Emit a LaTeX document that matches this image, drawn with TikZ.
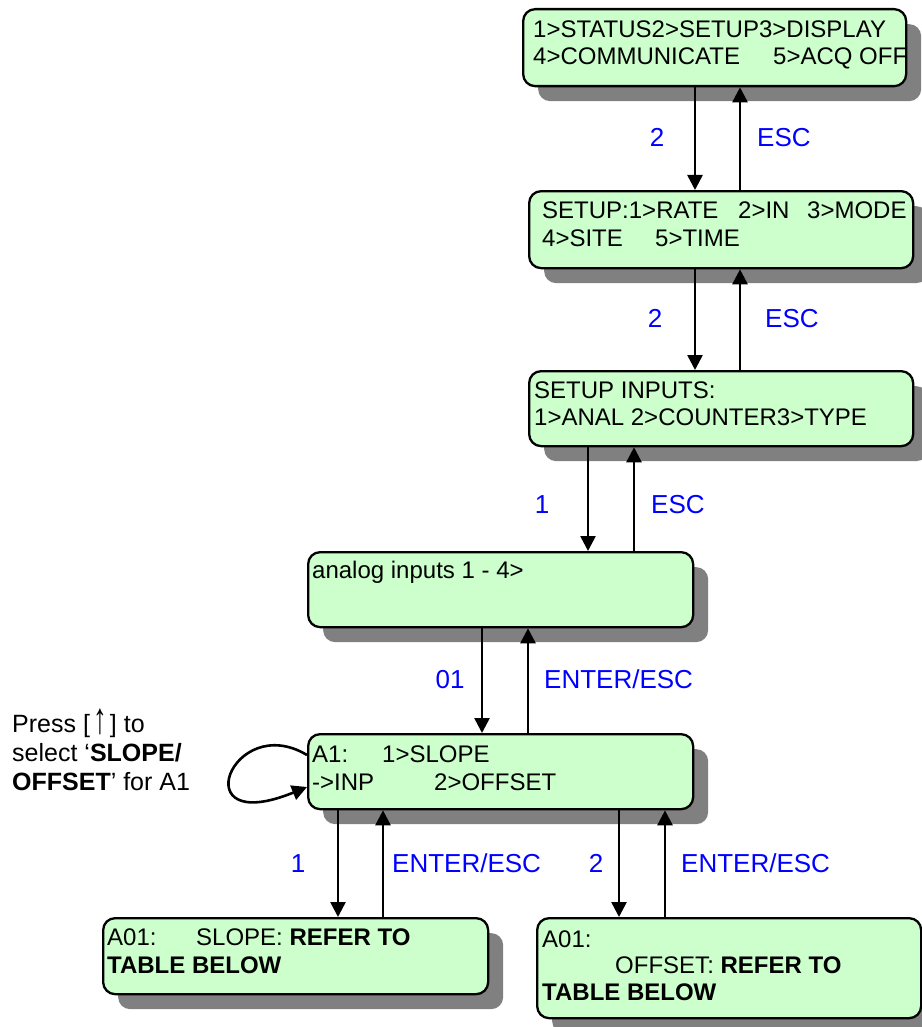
\documentclass[tikz,border=0pt]{standalone}
\usepackage{fontspec}
\setmainfont{Liberation Sans}
\usetikzlibrary{arrows.meta,shadows}
\definecolor{boxgreen}{RGB}{204,255,204}
\definecolor{shadowgray}{RGB}{128,128,128}
\definecolor{keyblue}{RGB}{0,0,255}
\begin{document}
\begin{tikzpicture}[x=1pt,y=-1pt,
  screen/.style={draw=black, line width=2.3pt, fill=boxgreen, rounded corners=12pt, inner sep=0pt, anchor=north west,
    drop shadow={shadow xshift=15pt, shadow yshift=-15pt, fill=shadowgray, opacity=1, draw=none}},
  txt/.style={anchor=base west, inner sep=0pt, font=\fontsize{24}{28}\selectfont},
  note/.style={anchor=base west, inner sep=0pt, font=\fontsize{25}{29}\selectfont},
  key/.style={anchor=base, inner sep=0pt, text=keyblue, font=\fontsize{26}{30}\selectfont},
  keyl/.style={key, anchor=base west},
  arr/.style={line width=2.6pt, -{Triangle[length=15pt,width=15pt]}},
]
\useasboundingbox (0,0) rectangle (921,1027);

% screens
\node[screen, minimum width=383, minimum height=77] (b1) at (522,8) {};
\node[screen, minimum width=384, minimum height=77] (b2) at (528,190) {};
\node[screen, minimum width=384, minimum height=75] (b3) at (528,370) {};
\node[screen, minimum width=385, minimum height=75] (b4) at (307,551) {};
\node[screen, minimum width=385, minimum height=75] (b5) at (307,733) {};
\node[screen, minimum width=385, minimum height=76] (b6) at (102,917) {};
\node[screen, minimum width=384, minimum height=100] (b7) at (536,917) {};

% screen texts
\node[txt] (t11) at (533,38) {1>STATUS2>SETUP3>DISPLAY};
\node[txt] (t12) at (533,65) {\makebox[240pt][l]{4>COMMUNICATE}5>ACQ OFF};
\node[txt] (t21) at (542,218) {\makebox[196pt][l]{SETUP:1>RATE}\makebox[69pt][l]{2>IN}3>MODE};
\node[txt] (t22) at (542,246) {\makebox[113pt][l]{4>SITE}5>TIME};
\node[txt] (t31) at (534,398) {SETUP INPUTS:};
\node[txt] (t32) at (534,425) {1>ANAL 2>COUNTER3>TYPE};
\node[txt] (t41) at (312,578) {analog inputs 1 - 4>};
\node[txt] (t51) at (312,762) {\makebox[70pt][l]{A1:}1>SLOPE};
\node[txt] (t52) at (312,790) {\makebox[122pt][l]{->INP}2>OFFSET};
\node[txt] (t61) at (107,945) {\makebox[89pt][l]{A01:}SLOPE: \textbf{REFER TO}};
\node[txt] (t62) at (107,973) {\textbf{TABLE BELOW}};
\node[txt] (t71) at (542,947) {A01:};
\node[txt] (t72) at (615,973) {OFFSET: \textbf{REFER TO}};
\node[txt] (t73) at (542,1000) {\textbf{TABLE BELOW}};

% side note
\node[note] (n1) at (12,732) {Press [\makebox[20pt]{\raisebox{-1.5pt}{\scalebox{1.1}[1.75]{↑}}}] to};
\node[note] (n2) at (12,761) {select ‘\textbf{SLOPE/}};
\node[note] (n3) at (12,790) {\textbf{OFFSET}’ for A1};

% connectors
\draw[arr] (b1.south -| 695,0) -- (b2.north -| 695,0);
\draw[arr] (b2.north -| 740,0) -- (b1.south -| 740,0);
\draw[arr] (b2.south -| 695,0) -- (b3.north -| 695,0);
\draw[arr] (b3.north -| 740,0) -- (b2.south -| 740,0);
\draw[arr] (b3.south -| 588,0) -- (b4.north -| 588,0);
\draw[arr] (b4.north -| 634,0) -- (b3.south -| 634,0);
\draw[arr] (b4.south -| 482,0) -- (b5.north -| 482,0);
\draw[arr] (b5.north -| 528,0) -- (b4.south -| 528,0);
\draw[arr] (b5.south -| 338,0) -- (b6.north -| 338,0);
\draw[arr] (b6.north -| 383,0) -- (b5.south -| 383,0);
\draw[arr] (b5.south -| 619,0) -- (b7.north -| 619,0);
\draw[arr] (b7.north -| 665,0) -- (b5.south -| 665,0);
\draw[arr] ([yshift=-22pt]b5.north west) .. controls (232,710) and (182,838) .. ([yshift=-54pt]b5.north west);

% key labels
\node[key] (k12d) at (657,147) {2};
\node[keyl] (k12u) at (757,147) {ESC};
\node[key] (k23d) at (655,327) {2};
\node[keyl] (k23u) at (765,327) {ESC};
\node[key] (k34d) at (542,513) {1};
\node[keyl] (k34u) at (651,513) {ESC};
\node[key] (k45d) at (450,688) {01};
\node[keyl] (k45u) at (544,688) {ENTER/ESC};
\node[key] (k56d) at (298,872) {1};
\node[keyl] (k56u) at (392,872) {ENTER/ESC};
\node[key] (k57d) at (596,872) {2};
\node[keyl] (k57u) at (681,872) {ENTER/ESC};
\end{tikzpicture}
\end{document}
